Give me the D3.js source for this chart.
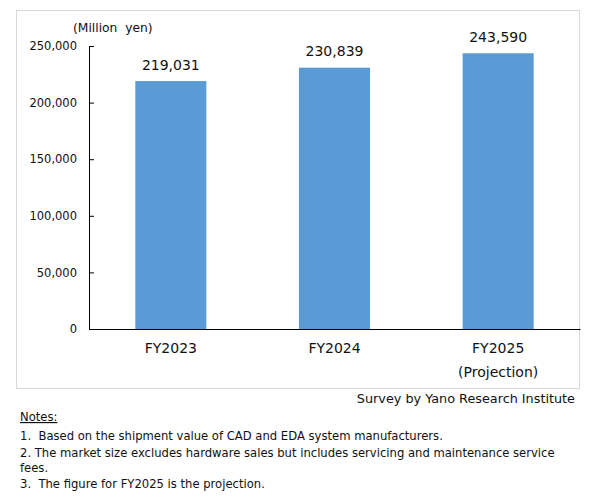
<!DOCTYPE html>
<html>
<head>
<meta charset="utf-8">
<script src="https://cdn.jsdelivr.net/npm/d3@7"></script>
<style>
  body { margin: 0; background: #fff; }
  svg { display: block; font-family: "DejaVu Sans", sans-serif; }
  text { white-space: pre; }
</style>
</head>
<body>
<div id="chart"></div>
<script>
// Chart data
const years = ["FY2023", "FY2024", "FY2025"];
const subLabels = ["", "", "(Projection)"];
const values = [219031, 230839, 243590];
const yTicks = [0, 50000, 100000, 150000, 200000, 250000];
const notes = [
  "1.  Based on the shipment value of CAD and EDA system manufacturers.",
  "2. The market size excludes hardware sales but includes servicing and maintenance service",
  "fees.",
  "3.  The figure for FY2025 is the projection."
];

const width = 599, height = 501;
const plot = { left: 89, right: 580, top: 46, bottom: 329 };

const svg = d3.select("#chart").append("svg")
    .attr("width", width)
    .attr("height", height);

// Outer frame of the chart
svg.append("rect")
    .attr("x", 16.5).attr("y", 10.5)
    .attr("width", 563).attr("height", 378)
    .attr("fill", "none")
    .attr("stroke", "#d9d9d9");

// Scales
const x = d3.scaleBand(years, [plot.left, plot.right])
    .paddingInner(0.566)
    .paddingOuter(0.283);
const y = d3.scaleLinear([0, 250000], [plot.bottom, plot.top]);

// Bars
svg.append("g")
    .attr("fill", "#5b9bd5")
    .selectAll("rect")
    .data(values)
    .join("rect")
    .attr("x", (d, i) => x(years[i]))
    .attr("y", d => y(d))
    .attr("width", x.bandwidth())
    .attr("height", d => y(0) - y(d));

// Value labels
svg.append("g")
    .attr("font-size", 14)
    .attr("text-anchor", "middle")
    .attr("fill", "#111")
    .selectAll("text")
    .data(values)
    .join("text")
    .attr("x", (d, i) => x(years[i]) + x.bandwidth() / 2)
    .attr("y", d => y(d) - 11.5)
    .text(d => d3.format(",")(d));

// Y axis, ticks pointing inward
const yAxis = svg.append("g")
    .attr("transform", `translate(${plot.left},0)`)
    .call(d3.axisLeft(y)
        .tickValues(yTicks)
        .tickSizeInner(-5)
        .tickSizeOuter(0)
        .tickPadding(12)
        .tickFormat(d3.format(",")));
yAxis.selectAll("text").attr("font-size", 11.5).attr("fill", "#111").attr("font-family", "DejaVu Sans");
yAxis.selectAll("line, path").attr("stroke", "#000");

// X axis
const xAxis = svg.append("g")
    .attr("transform", `translate(0,${plot.bottom})`)
    .call(d3.axisBottom(x).tickSize(0).tickPadding(0).tickFormat(""));
xAxis.select(".domain").attr("stroke", "#000");

const cat = xAxis.selectAll(".tick");
cat.append("text")
    .attr("y", 24)
    .attr("fill", "#111")
    .attr("font-size", 14)
    .attr("font-family", "DejaVu Sans")
    .text(d => d);
cat.append("text")
    .attr("y", 48)
    .attr("fill", "#111")
    .attr("font-size", 14)
    .attr("font-family", "DejaVu Sans")
    .text((d, i) => subLabels[i]);

// Unit label
svg.append("text")
    .attr("x", 73).attr("y", 32)
    .attr("font-size", 12.3)
    .attr("fill", "#111")
    .text("(Million  yen)");

// Source
svg.append("text")
    .attr("x", 575).attr("y", 403)
    .attr("text-anchor", "end")
    .attr("font-size", 12.8)
    .attr("fill", "#111")
    .text("Survey by Yano Research Institute");

// Notes
svg.append("text")
    .attr("x", 20).attr("y", 421)
    .attr("font-size", 11.6)
    .attr("fill", "#111")
    .attr("text-decoration", "underline")
    .text("Notes:");

const noteY = [440, 457, 472, 488];
svg.append("g")
    .attr("font-size", 11.6)
    .attr("fill", "#111")
    .selectAll("text")
    .data(notes)
    .join("text")
    .attr("x", 20)
    .attr("y", (d, i) => noteY[i])
    .text(d => d);
</script>
</body>
</html>
